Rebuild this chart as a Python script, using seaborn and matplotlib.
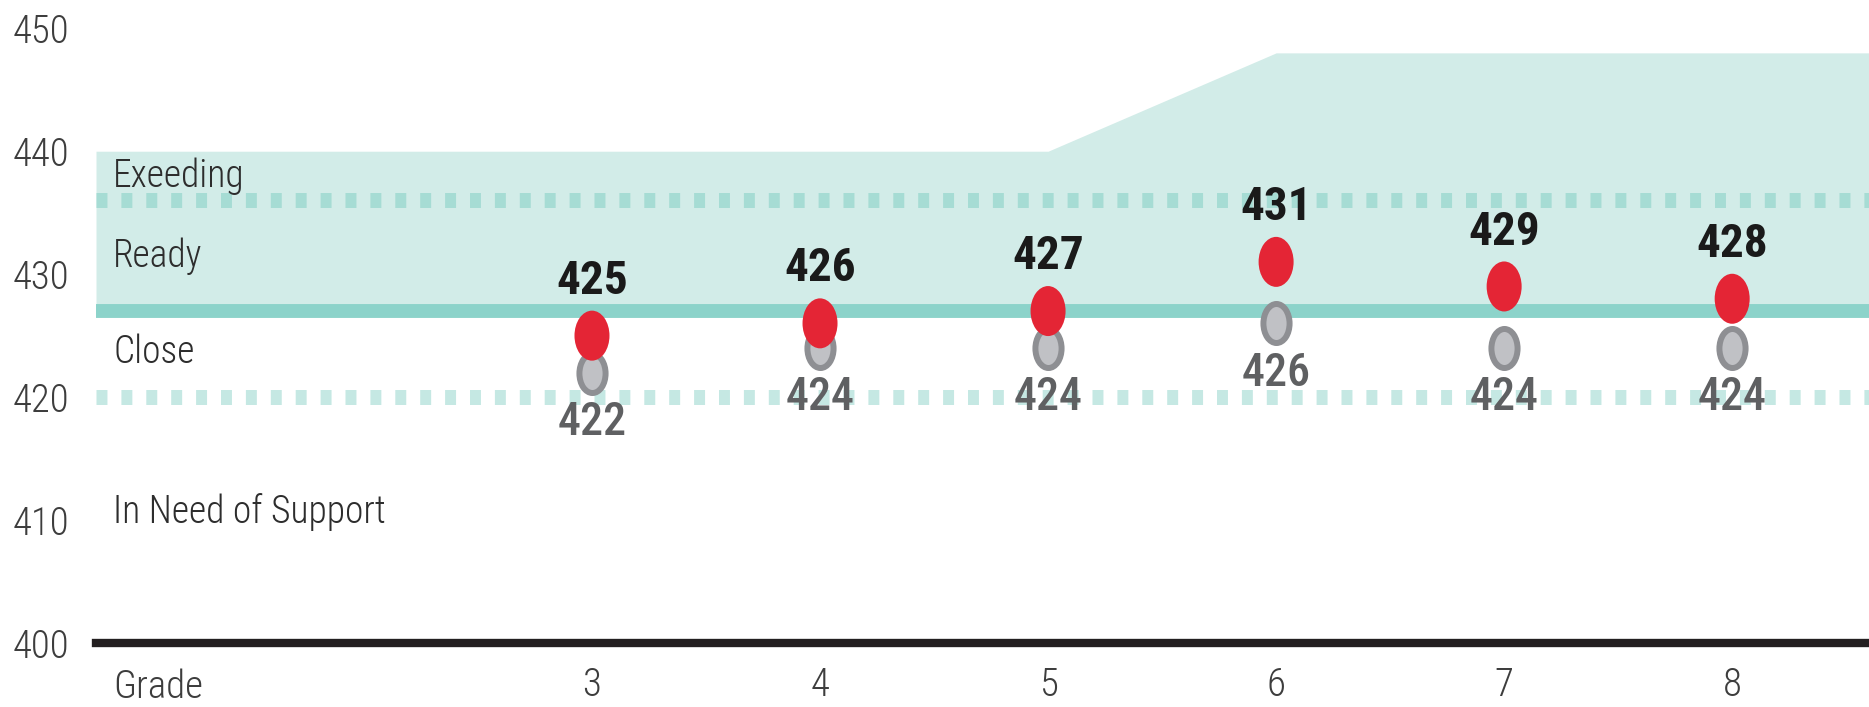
import pandas as pd
import matplotlib
matplotlib.use("Agg")
import matplotlib.pyplot as plt
from matplotlib import font_manager as fm
from matplotlib.path import Path
from matplotlib.transforms import Affine2D
import seaborn as sns

# ---- data ----
grades = [3, 4, 5, 6, 7, 8]
school_scores = [425, 426, 427, 431, 429, 428]     # red dots
compare_scores = [422, 424, 424, 426, 424, 424]    # grey dots
exceed_top = [440, 440, 440, 448, 448, 448]        # top of the shaded band per grade
exceed_cut = 436
ready_cut = 427
close_cut = 420
band_names = ["Exeeding", "Ready", "Close", "In Need of Support"]
band_label_y = [437.1, 430.6, 422.8, 409.8]
y_ticks = [400, 410, 420, 430, 440, 450]

# ---- style ----
sns.set_style("white")
available = {f.name for f in fm.fontManager.ttflist}
narrow = next((f for f in ["Roboto Condensed", "Fira Sans Condensed",
                           "Liberation Sans Narrow", "Open Sans Condensed"]
               if f in available), "DejaVu Sans")
plt.rcParams["font.family"] = [narrow, "DejaVu Sans"]

TEAL_FILL = "#d2ece8"
TEAL_LINE = "#8cd3ca"
RED = "#e42535"
GREY_EDGE = "#8e8f93"
GREY_FACE = "#c0c1c5"

x_lo, x_hi = 0.825, 8.6
y_lo, y_hi = 400, 452.3

fig = plt.figure(figsize=(18.69, 7.07), dpi=100)
ax = fig.add_axes([96 / 1869, 0.0905, 1 - 96 / 1869, 0.9095])
ax.set_xlim(x_lo, x_hi)
ax.set_ylim(y_lo, y_hi)

# shaded "ready / exceeding" band
band_x = [x_lo] + grades + [x_hi]
band_top = [exceed_top[0]] + exceed_top + [exceed_top[-1]]
ax.fill_between(band_x, ready_cut, band_top, color=TEAL_FILL, lw=0, zorder=1)

# cut lines
ax.axhline(ready_cut, color=TEAL_LINE, lw=10, zorder=2)
ax.axhline(exceed_cut, color="#a6dcd4", lw=10.8, dashes=(0.73, 0.93), zorder=2)
ax.axhline(close_cut, color="#c5e8e3", lw=10.8, dashes=(0.73, 0.93), zorder=2)

# ellipse markers (the source is stretched vertically)
circle = Path.unit_circle()
red_marker = Affine2D().scale(0.7, 1).transform_path(circle)
grey_marker = Affine2D().scale(0.67, 1).transform_path(circle)

df = pd.DataFrame({"grade": grades, "school": school_scores, "compare": compare_scores})

sns.scatterplot(data=df, x="grade", y="compare", marker=grey_marker, s=790,
                color=GREY_FACE, edgecolor=GREY_EDGE, linewidth=4.3, zorder=3, ax=ax)
sns.scatterplot(data=df, x="grade", y="school", marker=red_marker, s=1296,
                color=RED, edgecolor="none", linewidth=0, zorder=4, ax=ax)

# value labels
for g, v in zip(grades, school_scores):
    ax.annotate(str(v), (g, v), xytext=(0, 39.5), textcoords="offset points",
                ha="center", va="center", fontsize=34, fontweight="bold",
                color="#1a1a1a", zorder=5)
for g, v in zip(grades, compare_scores):
    ax.annotate(str(v), (g, v), xytext=(0, -36), textcoords="offset points",
                ha="center", va="center", fontsize=33, fontweight="medium",
                color="#5f6062", zorder=5)

# band names
for name, y in zip(band_names, band_label_y):
    ax.text(0.9, y, name, ha="left", va="baseline", fontsize=27,
            fontweight="light", color="#2d2d2d", zorder=5)

# axes
ax.set_yticks(y_ticks)
ax.set_yticklabels([str(t) for t in y_ticks], fontweight="light")
ax.set_xticks(grades)
ax.set_xticklabels([str(g) for g in grades], fontweight="light")
ax.tick_params(axis="y", length=0, pad=19, labelsize=28, labelcolor="#3d3d3d")
ax.tick_params(axis="x", length=0, pad=17, labelsize=28, labelcolor="#3d3d3d")
ax.annotate("Grade", xy=(0.9, 0), xycoords=("data", "axes fraction"),
            xytext=(0, -18), textcoords="offset points", ha="left", va="top",
            fontsize=28, fontweight="light", color="#3d3d3d")
ax.set_xlabel("")
ax.set_ylabel("")

for side in ["top", "right", "left"]:
    ax.spines[side].set_visible(False)
ax.spines["bottom"].set_color("#231f20")
ax.spines["bottom"].set_linewidth(6)
ax.grid(False)

fig.savefig("out.png", dpi=100)
